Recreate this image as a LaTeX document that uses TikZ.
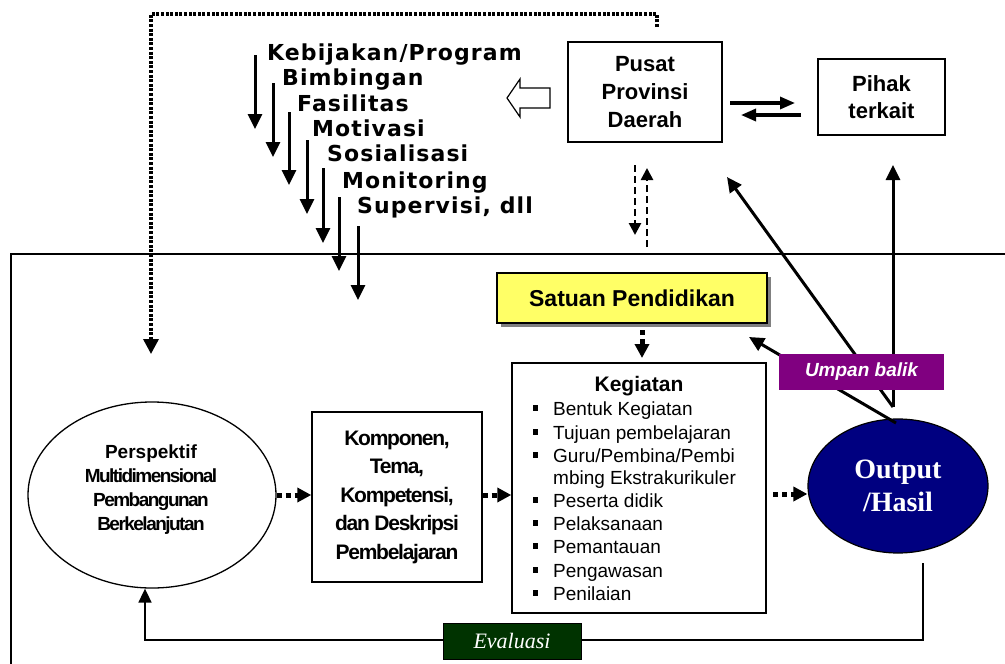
\documentclass[tikz,border=0pt]{standalone}
\usepackage{fontspec}
\setmainfont{Liberation Sans}
\newfontfamily\verd[LetterSpace=5]{DejaVu Sans}
\newfontfamily\condA[LetterSpace=-8]{Liberation Sans}
\newfontfamily\condB[LetterSpace=-6]{Liberation Sans}
\newfontfamily\tnr{Liberation Serif}
\usetikzlibrary{arrows.meta,shapes.geometric,calc}
\newcommand\fs[2]{\fontsize{#1}{#2}\selectfont}
\definecolor{satyel}{HTML}{FFFF66}
\definecolor{navyb}{HTML}{000080}
\definecolor{umpanc}{HTML}{800080}
\definecolor{evalg}{HTML}{003300}
\definecolor{shadowg}{HTML}{808080}
\begin{document}
\begin{tikzpicture}[x=1pt,y=-1pt,
  boxn/.style={draw, line width=1.4pt, fill=white, inner sep=0pt, align=center},
  arr/.style={line width=3pt, -{Triangle[length=15pt,width=14pt]}},
  harr/.style={line width=3.2pt, -{Triangle[length=15pt,width=12pt]}},
  dotline/.style={line width=3.4pt, dash pattern=on 3pt off 1.6pt, -{Triangle[length=15pt,width=15pt]}},
  dotarr/.style={line width=5pt, dash pattern=on 5pt off 4pt, -{Triangle[length=14pt,width=14pt]}},
  dasharr/.style={line width=2.6pt, dash pattern=on 7pt off 4pt, -{Triangle[length=12pt,width=12pt]}},
  listtxt/.style={anchor=base west, inner sep=0pt, font=\verd\bfseries\fs{22}{26}},
  itemtxt/.style={anchor=base west, inner sep=0pt, font=\fs{19}{22}},
  bul/.style={fill=black, minimum size=5.5pt, inner sep=0pt}
]
\useasboundingbox[fill=white] (0,0) rectangle (1005,664);

% frame
\draw[line width=1.3pt] (11,664) -- (11,254) -- (1005,254);

% top list
\node[listtxt] (l1) at (267,60) {Kebijakan/Program};
\node[listtxt] (l2) at (282,85) {Bimbingan};
\node[listtxt] (l3) at (297,111) {Fasilitas};
\node[listtxt] (l4) at (312,136) {Motivasi};
\node[listtxt] (l5) at (327,161) {Sosialisasi};
\node[listtxt] (l6) at (342,188) {Monitoring};
\node[listtxt] (l7) at (357,213) {Supervisi, dll};

\foreach \i/\x/\ya/\yb in {1/255/55/129, 2/273/83/157, 3/289/112/185, 4/307/140/214, 5/323/168/243, 6/339/197/271, 7/358/226/300}{
  \coordinate (ka\i) at (\x,\ya);
  \coordinate (kb\i) at (\x,\yb);
  \draw[arr] (ka\i) -- (kb\i);
}

% boxes top
\node[boxn, minimum width=154pt, minimum height=100pt, font=\bfseries\fs{22}{28}] (pusat) at (645,92) {Pusat\\Provinsi\\Daerah};
\node[boxn, minimum width=127pt, minimum height=76pt, font=\bfseries\fs{22}{27}] (pihak) at (881.5,97) {Pihak\\terkait};

% hollow arrow
\draw[line width=1.2pt, fill=white] (507,98) -- (520,79) -- (520,88) -- (550,88) -- (550,108) -- (520,108) -- (520,117) -- cycle;

% pusat <-> pihak
\coordinate (h1a) at (730,103); \coordinate (h1b) at (795,103);
\coordinate (h2a) at (801,115); \coordinate (h2b) at (741,115);
\draw[harr] (h1a) -- (h1b);
\draw[harr] (h2a) -- (h2b);

% dotted top line
\coordinate (dt) at (657,27);
\coordinate (dtend) at (151,354);
\draw[dotline] (dt) -- (657,14) -- (151,14) -- (dtend);

% dashed arrows
\coordinate (d1s) at (635,165); \coordinate (d1e) at (635,235);
\coordinate (d2s) at (647,247); \coordinate (d2e) at (647,168);
\draw[dasharr] (d1s) -- (d1e);
\draw[dasharr] (d2s) -- (d2e);

% Satuan
\node[fill=shadowg, minimum width=270pt, minimum height=50pt, inner sep=0pt] (satsh) at (636,302) {};
\node[boxn, fill=satyel, minimum width=270pt, minimum height=50pt, font=\bfseries\fs{23}{26}] (satuan) at (632,298) {Satuan Pendidikan};

% Kegiatan
\node[boxn, minimum width=254pt, minimum height=250pt] (keg) at (639,488) {};
\node[font=\bfseries\fs{21}{25}, inner sep=0pt] (kegt) at (639,386) {Kegiatan};
\node[bul] (b1) at (535.5,408) {}; \node[itemtxt] (i1) at (553,415) {Bentuk Kegiatan};
\node[bul] (b2) at (535.5,432) {}; \node[itemtxt] (i2) at (553,439) {Tujuan pembelajaran};
\node[bul] (b3) at (535.5,455) {}; \node[itemtxt] (i3) at (553,462) {Guru/Pembina/Pembi};
\node[itemtxt] (i3b) at (553,484) {mbing Ekstrakurikuler};
\node[bul] (b4) at (535.5,500) {}; \node[itemtxt] (i4) at (553,507) {Peserta didik};
\node[bul] (b5) at (535.5,523) {}; \node[itemtxt] (i5) at (553,530) {Pelaksanaan};
\node[bul] (b6) at (535.5,546) {}; \node[itemtxt] (i6) at (553,553) {Pemantauan};
\node[bul] (b7) at (535.5,570) {}; \node[itemtxt] (i7) at (553,577) {Pengawasan};
\node[bul] (b8) at (535.5,593) {}; \node[itemtxt] (i8) at (553,600) {Penilaian};

% Satuan -> Kegiatan
\coordinate (sk1) at (642,330); \coordinate (sk2) at (642,358);
\draw[dotarr] (sk1) -- (sk2);

% Perspektif ellipse
\node[ellipse, draw, line width=1.3pt, fill=white, minimum width=248pt, minimum height=186pt, inner sep=0pt] (persp) at (152,495) {};
\node[align=center, font=\bfseries\fs{19}{24}, inner sep=0pt] (perspt) at (151,490) {Perspektif\\{\condA Multidimensional}\\{\condA Pembangunan}\\{\condA Berkelanjutan}};

% Komponen
\node[boxn, minimum width=170pt, minimum height=170pt, font=\bfseries\condB\fs{21}{28.5}] (komp) at (397,497) {Komponen,\\Tema,\\Kompetensi,\\dan Deskripsi\\Pembelajaran};

% Output
\node[ellipse, draw, line width=1.2pt, fill=navyb, minimum width=180pt, minimum height=134pt, inner sep=0pt, align=center, text=white, font=\tnr\bfseries\fs{28}{33}] (out) at (898,486) {Output\\/Hasil};

% flow arrows
\draw[dotarr] (persp.east |- 0,495) -- (komp.west |- 0,495);
\draw[dotarr] (komp.east |- 0,495) -- (keg.west |- 0,495);
\coordinate (k3s) at (773,494);
\draw[dotarr] (k3s) -- (k3s -| out.west);

% feedback arrows
\coordinate (o1) at (893,407);
\coordinate (pusatin) at (727,177);
\coordinate (pihakin) at (893,165);
\coordinate (o2) at (896,423);
\coordinate (satin) at (749,337);
\draw[arr] (o1) -- (pusatin);
\draw[arr] (o1) -- (pihakin);
\draw[arr] (o2) -- (satin);

\node[fill=umpanc, minimum width=165pt, minimum height=36pt, inner sep=0pt, text=white, font=\bfseries\itshape\fs{19}{22}] (umpan) at (861.5,372) {Umpan balik};

% evaluasi loop
\coordinate (evs) at (923,563);
\coordinate (evl) at (145,640);
\draw[line width=1.8pt, -{Triangle[length=14pt,width=13pt]}] (evs) |- (evl) -- (evl |- persp.south);
\node[fill=evalg, draw=black, line width=0.8pt, minimum width=138pt, minimum height=36pt, inner sep=0pt, text=white, font=\tnr\itshape\fs{22}{26}] (eval) at (512,641) {Evaluasi};

\end{tikzpicture}
\end{document}
